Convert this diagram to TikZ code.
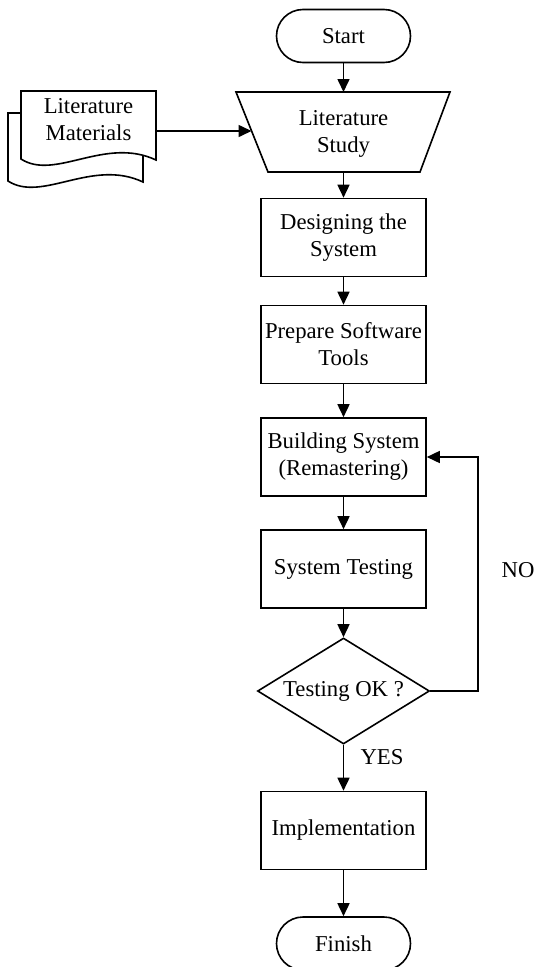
\documentclass[tikz,border=0pt]{standalone}
\usepackage{fontspec}
\setmainfont{Liberation Serif}
\usetikzlibrary{arrows.meta,shapes.geometric}
\begin{document}
\begin{tikzpicture}[x=1pt,y=-1pt,
  every node/.style={font=\fontsize{22.7}{27}\selectfont, align=center, inner sep=0pt},
  line/.style={line width=1.6pt},
  arr/.style={line width=1.6pt,-{Triangle[length=13pt,width=12pt]}},
  procbox/.style={draw, line width=1.6pt, minimum width=165pt, minimum height=78pt},
  term/.style={draw, line width=1.6pt, minimum width=134pt, minimum height=53pt, rounded corners=26.5pt},
  decision/.style={draw, line width=1.6pt, diamond, minimum width=172pt, minimum height=106pt, aspect=1.62}
]
\useasboundingbox (0,0) rectangle (536,967);
\fill[white] (0,0) rectangle (536,967);

% terminals
\node[term] (start) at (343.5,36) {Start};
\node[term] (finish) at (343.5,943.5) {Finish};

% literature study (trapezoid)
\draw[line, line join=miter] (236,92) -- (450,92) -- (420,172) -- (268,172) -- cycle;
\coordinate (litT) at (343.5,92);
\coordinate (litB) at (343.5,172);
\coordinate (litW) at (251.5,131);
\node (lit) at (343.5,134) {Literature\\Study};

% literature materials (multi-document)
\draw[line, line join=miter] (21,113) -- (8,113) -- (8,181)
  .. controls (42,203) and (92,158) .. (143,182) -- (143,140);
\draw[line, line join=miter, fill=white] (21,91) -- (156,91) -- (156,160)
  .. controls (105,136) and (55,181) .. (21,159) -- cycle;
\coordinate (docE) at (156,131);
\node (doc) at (88.5,120) {Literature\\Materials};

% process boxes
\node[procbox] (design) at (343.5,237.5) {Designing the\\System};
\node[procbox] (prep) at (343.5,344.5) {Prepare Software\\Tools};
\node[procbox] (build) at (343.5,457) {Building System\\(Remastering)};
\node[procbox] (test) at (343.5,569) {System Testing};
\node[decision] (ok) at (343.5,691) {Testing OK ?};
\node[procbox] (impl) at (343.5,830.5) {Implementation};

% connectors
\draw[arr] (start) -- (litT);
\draw[arr] (docE) -- (litW);
\draw[arr] (litB) -- (design);
\draw[arr] (design) -- (prep);
\draw[arr] (prep) -- (build);
\draw[arr] (build) -- (test);
\draw[arr] (test) -- (ok);
\draw[arr] (ok) -- (impl);
\draw[arr] (impl) -- (finish);
\coordinate (loopR) at (478,691);
\coordinate (loopT) at (478,457);
\draw[arr] (ok.east) -- (loopR) -- (loopT) -- (build.east);

% labels
\node (no) at (518,570) {NO};
\node (yes) at (382,757) {YES};
\end{tikzpicture}
\end{document}
